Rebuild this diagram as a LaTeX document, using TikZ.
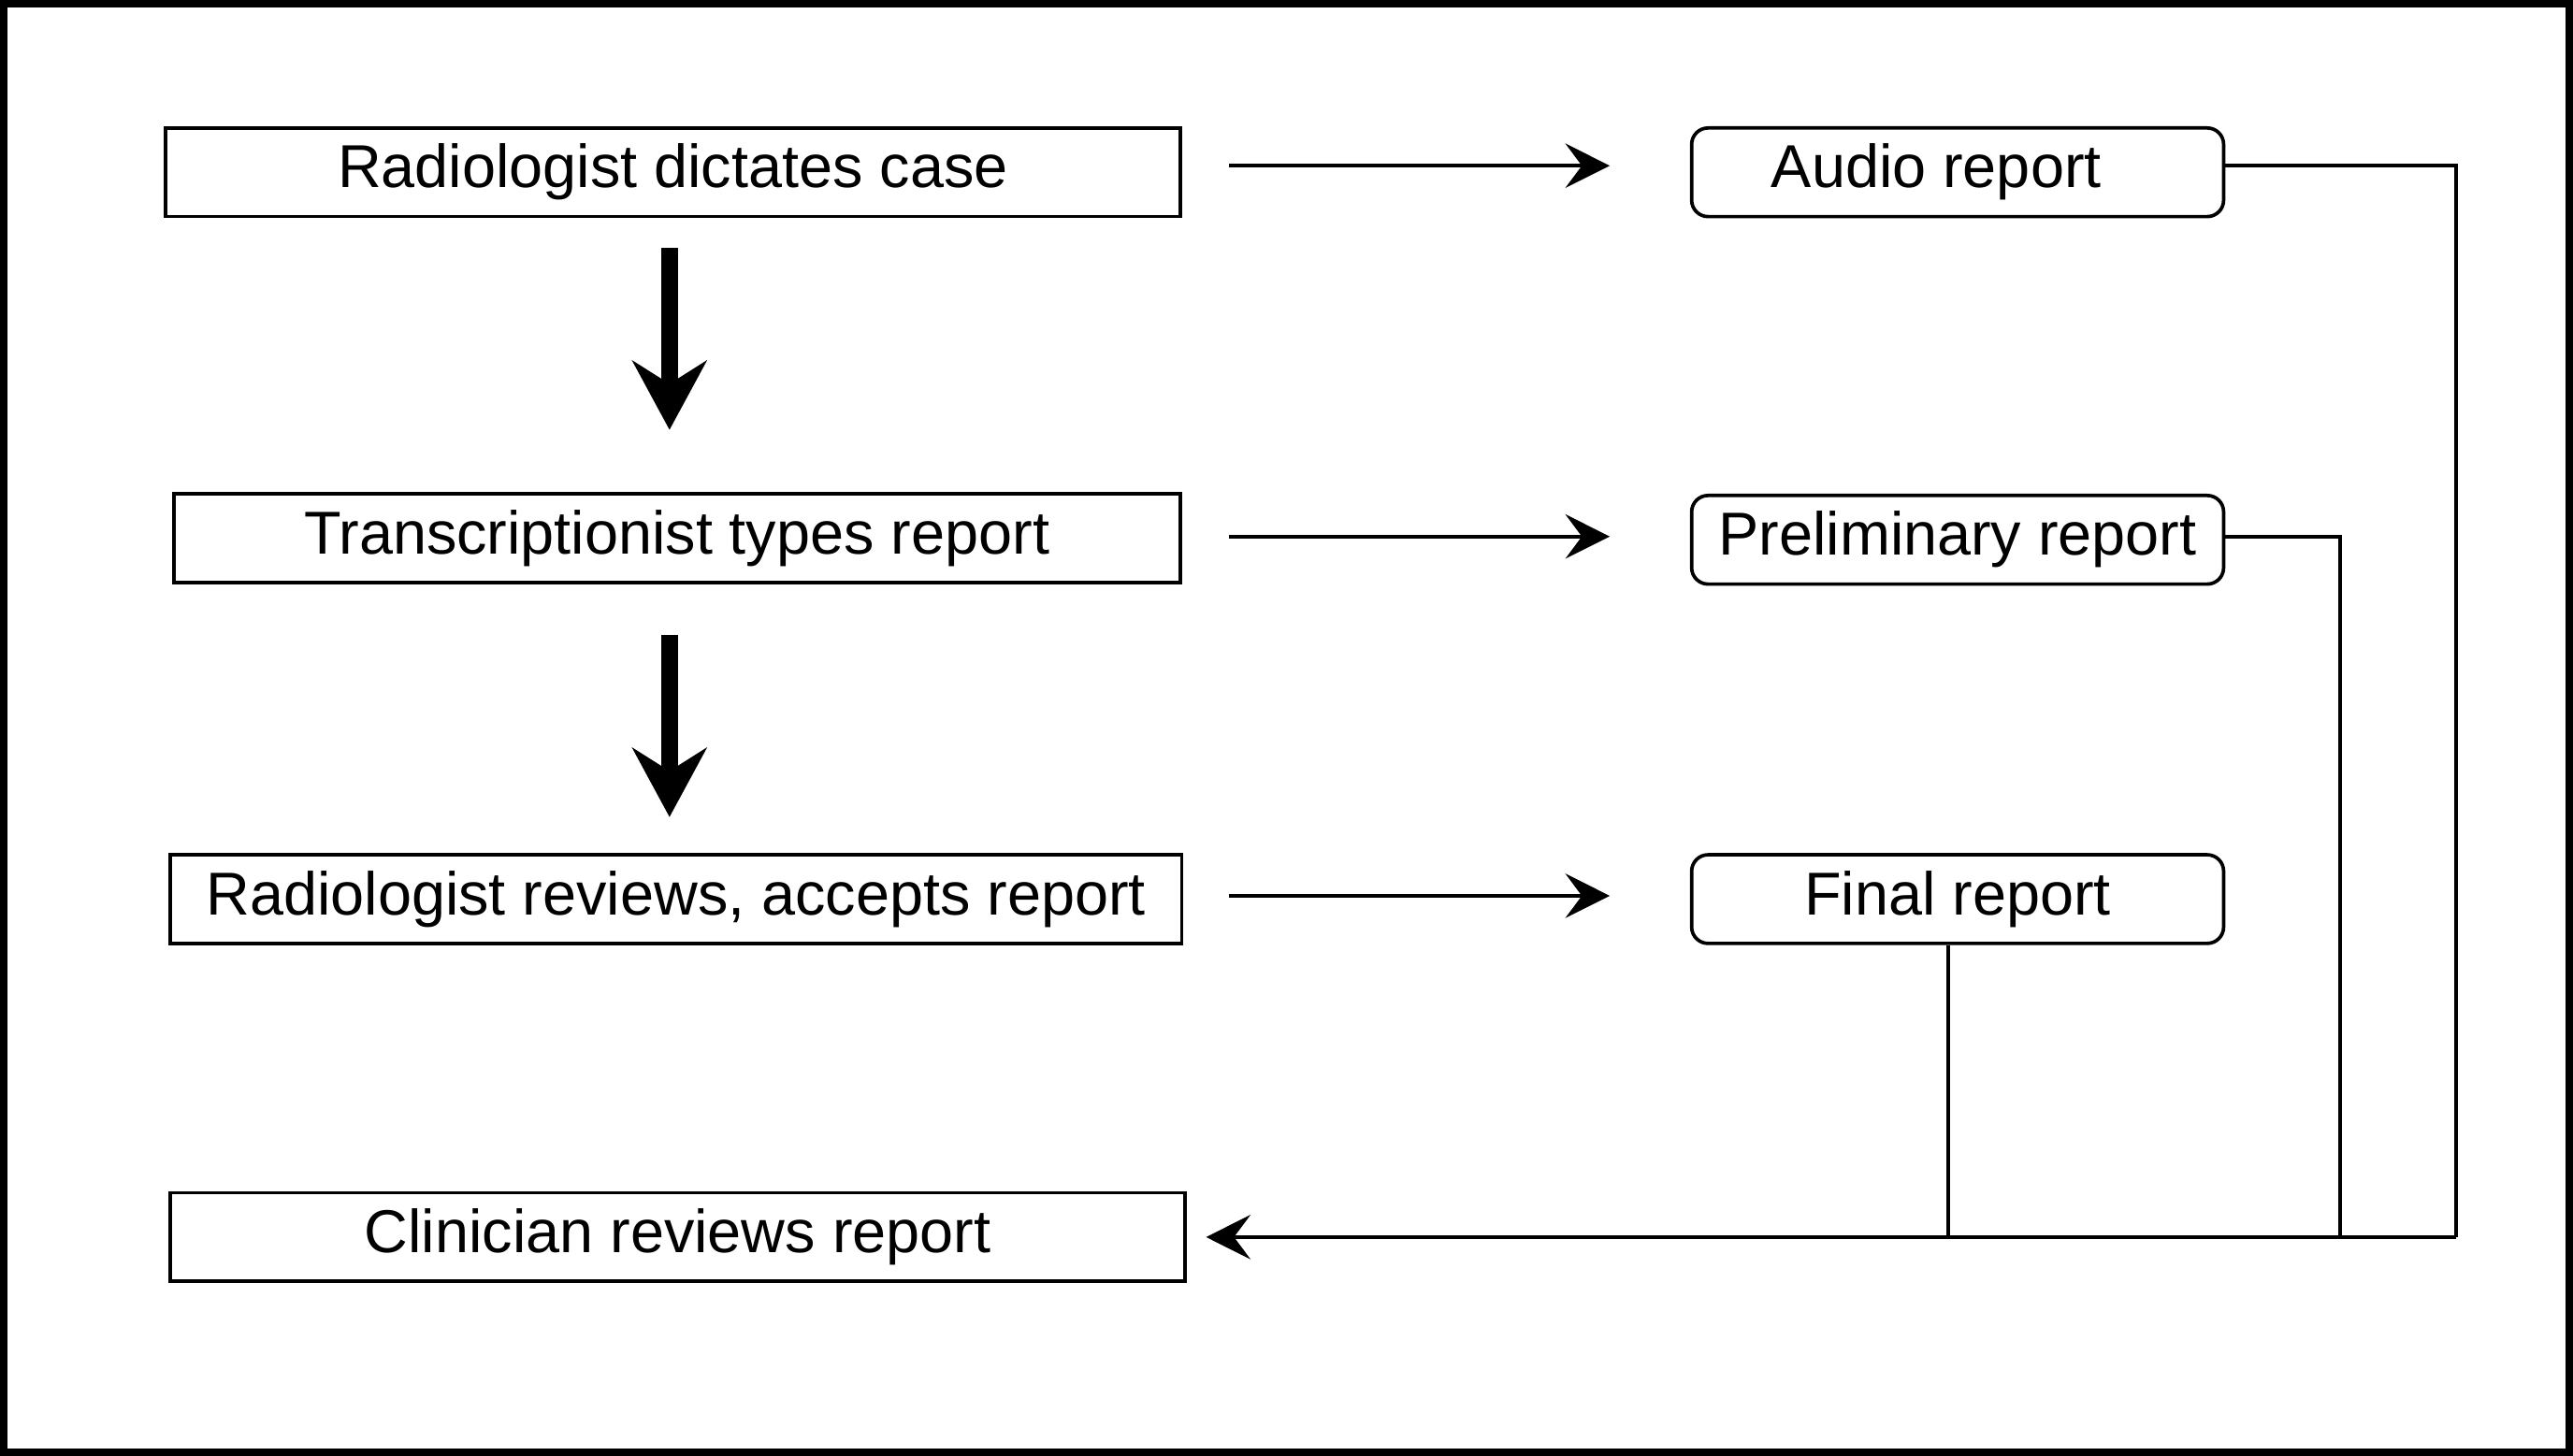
\documentclass[tikz,border=0pt]{standalone}
\usepackage{fontspec}
\setmainfont{Liberation Sans}
\usetikzlibrary{arrows.meta}
\begin{document}
\begin{tikzpicture}[x=0.01cm,y=-0.01cm,
  sq/.style={draw,line width=0.6pt,minimum height=0.54cm,inner sep=0pt,font=\fontsize{10.5}{12}\selectfont},
  rd/.style={sq,rounded corners=0.1cm,minimum width=3.24cm},
  thin/.style={line width=0.65pt},
  tip/.style={-{Stealth[length=0.27cm,width=0.27cm,inset=0.1cm]}},
  big/.style={line width=3pt,-{Stealth[length=0.42cm,width=0.45cm,inset=0.14cm]}}]
\useasboundingbox (0,0) rectangle (1568,887);
\draw[line width=1.3pt] (2,2) rectangle (1566,885);
\node[sq,minimum width=6.18cm] (a) at (410,105) {Radiologist dictates case};
\node[sq,minimum width=6.13cm] (b) at (412.5,328) {Transcriptionist types report};
\node[sq,minimum width=6.16cm] (c) at (412,548) {Radiologist reviews, accepts report};
\node[sq,minimum width=6.18cm] (d) at (413,754) {Clinician reviews report};
\node[rd] (e) at (1193,105) {\hspace{-0.26cm}Audio report};
\node[rd] (f) at (1193,329) {Preliminary report};
\node[rd] (g) at (1193,548) {Final report};
\coordinate (a1) at (749,101); \coordinate (a2) at (981,101);
\coordinate (b1) at (749,327); \coordinate (b2) at (981,327);
\coordinate (c1) at (749,546); \coordinate (c2) at (981,546);
\draw[thin,tip] (a1) -- (a2);
\draw[thin,tip] (b1) -- (b2);
\draw[thin,tip] (c1) -- (c2);
\coordinate (d1) at (408,151); \coordinate (d2) at (408,262);
\coordinate (d3) at (408,387); \coordinate (d4) at (408,498);
\draw[big] (d1) -- (d2);
\draw[big] (d3) -- (d4);
\coordinate (r1) at (1497,101); \coordinate (r2) at (1497,754);
\coordinate (p1) at (1426,327); \coordinate (p2) at (1426,754);
\coordinate (q2) at (1187,754);
\coordinate (end) at (735,754);
\draw[thin] (e.east |- r1) -- (r1) -- (r2);
\draw[thin] (f.east |- p1) -- (p1) -- (p2);
\draw[thin] (g.south -| q2) -- (q2);
\draw[thin,tip] (r2) -- (end);
\end{tikzpicture}
\end{document}
